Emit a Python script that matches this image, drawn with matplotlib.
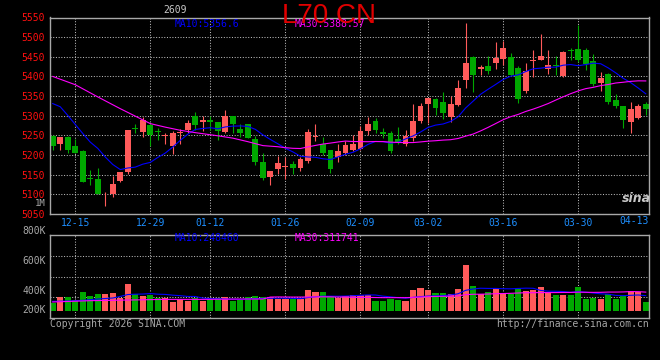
import numpy as np
import pandas as pd
import matplotlib
matplotlib.use("Agg")
import matplotlib.pyplot as plt
from matplotlib.transforms import blended_transform_factory

# daily candles, 2025-12-10 .. 2026-04-13
opens = [5249, 5228, 5245, 5224, 5211, 5141, 5139, 5087, 5102, 5134,
         5157, 5269, 5259, 5276, 5261, 5249, 5223, 5256, 5263, 5299,
         5284, 5288, 5283, 5258, 5299, 5267, 5278, 5240, 5183, 5145,
         5164, 5169, 5177, 5166, 5185, 5245, 5229, 5214, 5195, 5204,
         5214, 5216, 5261, 5286, 5258, 5257, 5242, 5227, 5244, 5286,
         5329, 5342, 5335, 5298, 5327, 5392, 5449, 5420, 5426, 5433,
         5445, 5450, 5422, 5364, 5439, 5442, 5420, 5430, 5400, 5467,
         5469, 5467, 5439, 5384, 5405, 5339, 5326, 5284, 5294, 5329]
highs = [5251, 5245, 5248, 5241, 5214, 5162, 5168, 5105, 5146, 5156,
         5263, 5278, 5297, 5281, 5270, 5256, 5261, 5267, 5289, 5310,
         5299, 5299, 5283, 5314, 5299, 5278, 5278, 5248, 5204, 5159,
         5198, 5195, 5184, 5195, 5266, 5280, 5245, 5214, 5227, 5235,
         5252, 5274, 5296, 5295, 5268, 5262, 5271, 5263, 5329, 5333,
         5346, 5346, 5360, 5350, 5392, 5536, 5453, 5430, 5452, 5487,
         5490, 5460, 5426, 5434, 5468, 5507, 5468, 5451, 5465, 5473,
         5532, 5473, 5456, 5411, 5409, 5356, 5326, 5335, 5329, 5335]
lows = [5214, 5214, 5206, 5204, 5132, 5124, 5102, 5071, 5094, 5131,
        5153, 5256, 5245, 5223, 5238, 5228, 5202, 5229, 5255, 5263,
        5261, 5263, 5238, 5255, 5256, 5245, 5244, 5174, 5136, 5124,
        5153, 5140, 5153, 5159, 5179, 5236, 5200, 5155, 5183, 5200,
        5210, 5214, 5250, 5257, 5244, 5206, 5227, 5223, 5236, 5282,
        5282, 5302, 5292, 5284, 5325, 5371, 5361, 5403, 5407, 5419,
        5430, 5401, 5333, 5359, 5398, 5442, 5405, 5403, 5399, 5441,
        5436, 5416, 5376, 5363, 5331, 5320, 5269, 5257, 5293, 5301]
closes = [5223, 5245, 5214, 5205, 5132, 5139, 5102, 5089, 5126, 5156,
          5263, 5267, 5289, 5250, 5258, 5251, 5256, 5259, 5282, 5276,
          5289, 5285, 5261, 5299, 5278, 5256, 5244, 5183, 5142, 5159,
          5179, 5172, 5168, 5189, 5259, 5248, 5206, 5164, 5210, 5225,
          5229, 5261, 5280, 5264, 5253, 5210, 5230, 5248, 5286, 5325,
          5346, 5320, 5308, 5329, 5371, 5434, 5404, 5424, 5413, 5447,
          5473, 5403, 5342, 5413, 5441, 5451, 5428, 5426, 5462, 5464,
          5443, 5431, 5380, 5397, 5335, 5326, 5288, 5316, 5325, 5318]
# volume, thousands
volume = [134, 224, 224, 179, 314, 252, 280, 280, 297, 213,
          448, 286, 246, 258, 213, 213, 151, 196, 168, 213,
          168, 202, 218, 230, 168, 174, 224, 246, 224, 224,
          196, 190, 190, 190, 347, 314, 314, 252, 213, 246,
          258, 258, 258, 168, 162, 196, 179, 157, 347, 381,
          347, 297, 297, 280, 364, 767, 414, 280, 314, 381,
          297, 280, 358, 330, 347, 398, 297, 263, 263, 263,
          398, 196, 213, 196, 286, 196, 246, 330, 314, 146]

# moving averages before enough in-window history exists
ma10_head = [5331, 5323, 5301, 5278, 5255, 5233, 5217, 5195, 5176]
ma30_head_idx = [0, 3, 6, 9, 13, 15, 17, 19, 22, 24, 26, 28]
ma30_head = [5400, 5379, 5348, 5318, 5280, 5271, 5263, 5257, 5249, 5243, 5234, 5224]
vma10_head_idx = [0, 2, 4, 6, 8]
vma10_head = [157, 162, 174, 196, 213]
vma30_head_idx = [0, 5, 10, 15, 20, 25, 28]
vma30_head = [146, 168, 179, 190, 190, 196, 196]

tick_idx = [3, 13, 21, 31, 41, 50, 60, 70]
tick_labels = ["12-15", "12-29", "01-12", "01-26", "02-09", "03-02", "03-16", "03-30"]
last_label = "04-13"
price_ticks = list(range(5050, 5551, 50))
vol_labels = ["800K", "600K", "400K", "200K"]

df = pd.DataFrame({"open": opens, "high": highs, "low": lows, "close": closes, "vol": volume})
n = len(df)
x = np.arange(n)
ma10 = df["close"].rolling(10).mean()
ma30 = df["close"].rolling(30).mean()
vma10 = df["vol"].rolling(10).mean()
vma30 = df["vol"].rolling(30).mean()

RED = "#FF5A5A"
GREEN = "#00A800"
BLUE = "#0000FF"
MAG = "#FF00FF"
GRID = "#B8B8B8"
FRAME = "#A8A8A8"
DATEC = "#1E8FFF"

plt.rcParams["font.family"] = ["DejaVu Sans Mono"]

W, H = 660, 360
fig = plt.figure(figsize=(W / 100, H / 100), dpi=100, facecolor="black")
ax = fig.add_axes([50 / W, 1 - 214 / H, 599 / W, 196.5 / H], facecolor="black")
axv = fig.add_axes([50 / W, 1 - 318 / H, 599 / W, 83 / H], facecolor="black")

up = df["close"] >= df["open"]
colors = np.where(up, RED, GREEN)

# candles
ax.vlines(x, df["low"], df["high"], colors=colors, lw=0.8, zorder=2)
body_lo = np.minimum(df["open"], df["close"])
body_h = np.maximum((df["close"] - df["open"]).abs(), 2.0)
ax.bar(x, body_h, bottom=body_lo, width=0.78, color=colors, linewidth=0, zorder=3)

ax.plot(list(range(9)) + list(x[9:]), ma10_head + list(ma10[9:]), color=BLUE, lw=0.8, zorder=4)
ax.plot(ma30_head_idx + list(x[29:]), ma30_head + list(ma30[29:]), color=MAG, lw=0.8, zorder=4)

# volume
axv.bar(x, df["vol"], width=0.82, color=colors, linewidth=0, zorder=3)
axv.plot(vma10_head_idx + list(x[9:]), vma10_head + list(vma10[9:]), color=BLUE, lw=0.8, zorder=4)
axv.plot(vma30_head_idx + list(x[29:]), vma30_head + list(vma30[29:]), color=MAG, lw=0.8, zorder=4)

xlim = (-0.36, 79.43)
for a in (ax, axv):
    a.set_xlim(*xlim)
    for s in a.spines.values():
        s.set_color(FRAME)
        s.set_linewidth(1.0)
        s.set_zorder(6)
    a.set_xticks(tick_idx)
    a.grid(True, color=GRID, lw=0.75, linestyle=(0, (1, 1.6)), zorder=1)
    a.set_axisbelow(True)
    a.tick_params(length=0)

ax.set_ylim(5050, 5550)
ax.set_yticks(price_ticks)
ax.set_yticklabels([str(p) for p in price_ticks])
ax.tick_params(axis="y", labelcolor="#FF1010", labelsize=7, pad=4)
ax.set_xticklabels(tick_labels)
ax.tick_params(axis="x", labelcolor=DATEC, labelsize=7, pad=3)
ax.text(1.0, -0.012, last_label, transform=ax.transAxes, ha="right", va="top",
        color=DATEC, fontsize=7)

vlo, vhi = -123, 1272
axv.set_ylim(vlo, vhi)
axv.set_yticks([vlo + (vhi - vlo) * f for f in (0.25, 0.5, 0.75)])
axv.set_yticklabels([])
axv.set_xticklabels([])
tr = blended_transform_factory(fig.transFigure, axv.transAxes)
for lab, f in zip(vol_labels, [1.048, 0.687, 0.325, 0.096]):
    axv.text(46 / W, f, lab, transform=tr, ha="right", va="center", color="#A8A8A8", fontsize=7)

def ftext(px, py, s, **kw):
    fig.text(px / W, 1 - py / H, s, **kw)

ftext(46, 204, "1M", ha="right", va="center", color="#A8A8A8", fontsize=6.5)
ftext(175, 10, "2609", ha="center", va="center", color="#C8C8C8", fontsize=7)
ftext(175, 24, "MA10:5356.6", ha="left", va="center", color=BLUE, fontsize=7)
ftext(295, 24, "MA30:5388.57", ha="left", va="center", color=MAG, fontsize=7)
ftext(175, 238, "MA10:248460", ha="left", va="center", color=BLUE, fontsize=7)
ftext(295, 238, "MA30:311741", ha="left", va="center", color=MAG, fontsize=7)
ftext(329, 16, "L70 CN", ha="center", va="center", color="#E00000", fontsize=20,
      family=["Liberation Sans", "DejaVu Sans"], zorder=10)
ftext(50, 324, "Copyright 2026 SINA.COM", ha="left", va="center", color="#A8A8A8", fontsize=7)
ftext(649, 324, "http://finance.sina.com.cn", ha="right", va="center", color="#A8A8A8", fontsize=7)
ftext(636, 199, "sina", ha="center", va="center", color="#C8C8C8", fontsize=9,
      style="italic", weight="bold", family=["DejaVu Sans"])

fig.savefig("out.png", dpi=100, facecolor="black")
